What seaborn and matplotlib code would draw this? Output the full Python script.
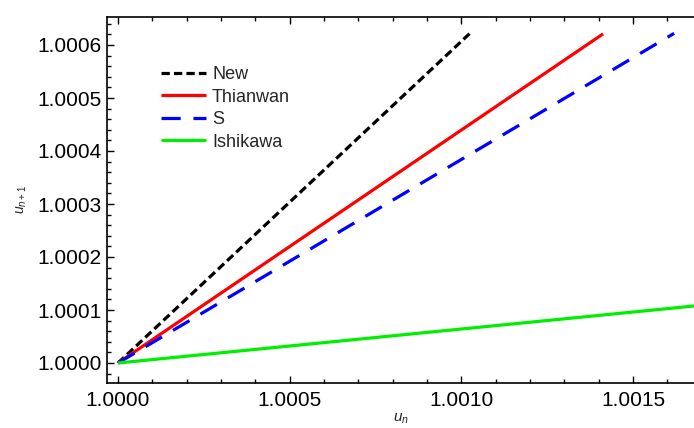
import matplotlib
matplotlib.use("Agg")
import matplotlib.pyplot as plt
import seaborn as sns
import pandas as pd
from matplotlib.ticker import MultipleLocator, StrMethodFormatter

# Data (straight lines from the common start point to their visible ends)
series_names = ["New", "Thianwan", "S", "Ishikawa"]
x_new = [1.0, 1.001025]
y_new = [1.0, 1.000622]
x_thianwan = [1.0, 1.001413]
y_thianwan = [1.0, 1.000621]
x_s = [1.0, 1.001620]
y_s = [1.0, 1.000622]
x_ishikawa = [1.0, 1.001700]
y_ishikawa = [1.0, 1.000109]

colors = {"New": "#000000", "Thianwan": "#ff0000", "S": "#0000ff", "Ishikawa": "#00ee00"}

sns.set_style("ticks")
plt.rcParams["font.family"] = ["Liberation Sans", "DejaVu Sans"]
plt.rcParams["mathtext.fontset"] = "custom"
plt.rcParams["mathtext.it"] = "Liberation Sans:italic"
plt.rcParams["mathtext.rm"] = "Liberation Sans"

fig = plt.figure(figsize=(6.94, 4.28), dpi=100)
W, H = 694, 428
left_px, right_px, top_px, bot_px = 107, 694, 17, 383
ax = fig.add_axes([left_px / W, 1 - bot_px / H, (right_px - left_px) / W, (bot_px - top_px) / H])

data = {
    "New": (x_new, y_new),
    "Thianwan": (x_thianwan, y_thianwan),
    "S": (x_s, y_s),
    "Ishikawa": (x_ishikawa, y_ishikawa),
}
dashes = {"New": (2.6, 1.3), "Thianwan": None, "S": (6.0, 4.0), "Ishikawa": None}

for name in series_names:
    xs, ys = data[name]
    df = pd.DataFrame({"x": xs, "y": ys})
    sns.lineplot(data=df, x="x", y="y", color=colors[name], linewidth=2.3, label=name, ax=ax)
for ln, name in zip(ax.get_lines(), series_names):
    if dashes[name] is not None:
        ln.set_dashes(dashes[name])
    ln.set_solid_capstyle("butt")
    ln.set_dash_capstyle("butt")

# Axis limits from pixel calibration
x0_px, px_per_x = 118, 343300.0
y0_px, px_per_y = 363, 530000.0
ax.set_xlim(1.0 + (left_px - x0_px) / px_per_x, 1.0 + (right_px - x0_px) / px_per_x)
ax.set_ylim(1.0 - (bot_px - y0_px) / px_per_y, 1.0 + (y0_px - top_px) / px_per_y)

ax.xaxis.set_major_locator(MultipleLocator(0.0005))
ax.xaxis.set_minor_locator(MultipleLocator(0.0001))
ax.yaxis.set_major_locator(MultipleLocator(0.0001))
ax.yaxis.set_minor_locator(MultipleLocator(0.00002))
ax.xaxis.set_major_formatter(StrMethodFormatter("{x:.4f}"))
ax.yaxis.set_major_formatter(StrMethodFormatter("{x:.4f}"))

ax.tick_params(which="both", direction="in", top=True, right=False, width=1.0, colors="black")
ax.tick_params(which="major", length=5)
ax.tick_params(which="minor", length=3)
ax.tick_params(axis="x", which="major", labelsize=15, pad=6)
ax.tick_params(axis="y", which="major", labelsize=15, pad=4)

for s in ["left", "bottom", "top"]:
    ax.spines[s].set_linewidth(1.2)
    ax.spines[s].set_color("black")
ax.spines["right"].set_visible(False)

ax.set_xlabel("$u_{n}$", fontsize=11, labelpad=1)
ax.set_ylabel("$u_{n+1}$", fontsize=10, labelpad=6)

leg = ax.legend(loc="upper left", bbox_to_anchor=(0.079, 0.885), frameon=False, fontsize=13,
                handlelength=2.5, handletextpad=0.35, labelspacing=0.3, borderaxespad=0)

fig.savefig("out.png", dpi=100)
